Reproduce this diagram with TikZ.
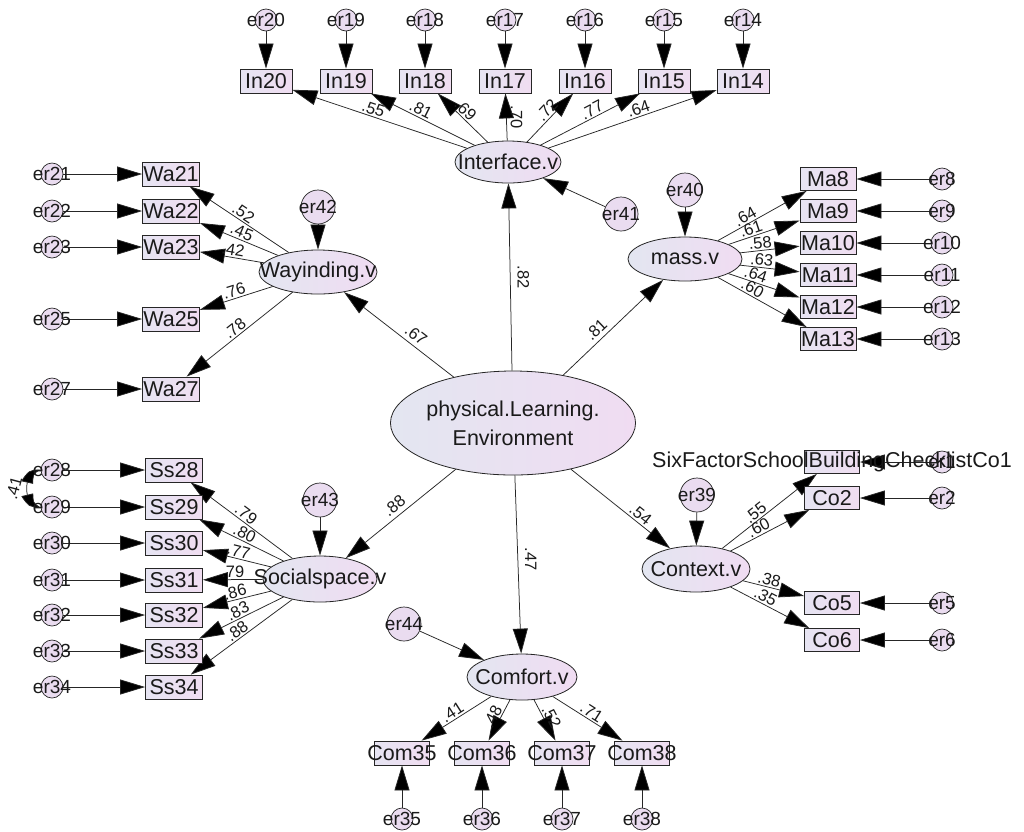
\documentclass[tikz,border=0pt]{standalone}
\usepackage{fontspec}
\setmainfont{Liberation Sans}
\usetikzlibrary{shapes.geometric,arrows.meta,bending}
\definecolor{linecol}{HTML}{262626}
\definecolor{txt}{HTML}{1A1A1A}
\definecolor{latl}{HTML}{E3E6F1}
\definecolor{latr}{HTML}{F0DCF2}
\definecolor{obsl}{HTML}{E6E4F2}
\definecolor{obsr}{HTML}{F0DDF1}
\definecolor{errf}{HTML}{EADCF0}
\pgfdeclarelayer{back}
\pgfdeclarelayer{bg}
\pgfsetlayers{back,bg,main}
\newcommand{\zw}[1]{\makebox[0pt]{#1}}
\tikzset{
  lat/.style={ellipse, draw=linecol, line width=0.8pt, left color=latl, right color=latr, inner sep=0pt, text=txt, font=\fontsize{21.5}{24}\selectfont},
  obs/.style={rectangle, draw=linecol, line width=0.8pt, left color=obsl, right color=obsr, minimum width=53pt, minimum height=24pt, inner sep=0pt, text=txt, font=\fontsize{21.5}{24}\selectfont},
  err/.style={circle, draw=linecol, line width=0.7pt, fill=errf, minimum size=22pt, inner sep=0pt, text=txt, font=\fontsize{19}{20}\selectfont},
  errb/.style={err, minimum size=34pt},
  arr/.style={draw=linecol, line width=0.75pt, -{Triangle[length=25pt,width=15pt,fill=black]}},
  coef/.style={text=txt, font=\fontsize{16.5}{17}\selectfont, inner sep=1.5pt},
}
\begin{document}
\begin{tikzpicture}[x=1pt,y=-1pt]
\useasboundingbox (0,0) rectangle (1024,831);
\begin{pgfonlayer}{back}
\fill[white] (0,0) rectangle (1024,831);
\end{pgfonlayer}

% ---- Interface
\foreach \n/\x in {20/266,19/346,18/425,17/505,16/585,15/664,14/743}{
  \node[err] (e\n) at (\x,20) {\zw{er\n}};
  \node[obs, minimum width=52pt] (i\n) at (\x,81) {\zw{In\n}};
}
\node[lat, minimum width=106pt, minimum height=42pt] (iface) at (508,162) {\zw{Interface.v}};
\node[errb] (e41) at (621,214) {\zw{er41}};

% ---- mass
\node[lat, minimum width=114pt, minimum height=44pt] (mass) at (685,259) {\zw{mass.v}};
\node[errb] (e40) at (685,190) {\zw{er40}};
\foreach \n/\y in {8/179,9/211,10/243,11/275,12/307,13/339}{
  \node[err] (e\n) at (942,\y) {\zw{er\n}};
  \node[obs, minimum width=56pt, minimum height=23pt] (m\n) at (828,\y) {\zw{Ma\n}};
}

% ---- Wayinding
\node[lat, minimum width=118pt, minimum height=44pt] (way) at (318,272) {\zw{Wayinding.v}};
\node[errb] (e42) at (318,207) {\zw{er42}};
\foreach \n/\y in {21/174,22/211,23/247,25/319,27/389}{
  \node[err] (e\n) at (52,\y) {\zw{er\n}};
  \node[obs, minimum width=57pt] (w\n) at (171,\y) {\zw{Wa\n}};
}

% ---- central
\node[lat, minimum width=214pt, minimum height=104pt, align=center, font=\fontsize{21.5}{29}\selectfont] (phys) at (513,423) {physical.Learning.\\Environment};

% ---- Socialspace
\node[lat, minimum width=114pt, minimum height=46pt] (soc) at (320,579) {\zw{Socialspace.v}};
\node[errb] (e43) at (320,500) {\zw{er43}};
\foreach \n/\y in {28/470,29/507,30/543,31/580,32/615,33/651,34/687}{
  \node[err] (e\n) at (52,\y) {\zw{er\n}};
  \node[obs, minimum width=57pt] (s\n) at (174,\y) {\zw{Ss\n}};
}

% ---- Context
\node[lat, minimum width=108pt, minimum height=46pt] (ctx) at (696,569) {\zw{Context.v}};
\node[errb] (e39) at (697,495) {\zw{er39}};
\foreach \n/\y in {1/462,2/498,5/603,6/640}{
  \node[err] (e\n) at (942,\y) {\zw{er\n}};
}
\node[obs, minimum width=55pt, minimum height=23pt] (c1) at (832,462) {\zw{SixFactorSchoolBuildingChecklistCo1}};
\foreach \n/\y in {2/498,5/603,6/640}{
  \node[obs, minimum width=55pt, minimum height=23pt] (c\n) at (832,\y) {\zw{Co\n}};
}

% ---- Comfort
\node[lat, minimum width=110pt, minimum height=46pt] (comf) at (522,677) {\zw{Comfort.v}};
\node[errb] (e44) at (404,624) {\zw{er44}};
\foreach \n/\x in {35/402,36/482,37/562,38/642}{
  \node[obs, minimum width=55pt] (k\n) at (\x,753) {\zw{Com\n}};
  \node[err] (e\n) at (\x,819) {\zw{er\n}};
}

\node[coef, rotate=75] (cov) at (14,488) {.41};

\begin{pgfonlayer}{bg}
% error arrows
\foreach \n in {14,...,20} \draw[arr] (e\n) -- (i\n);
\draw[arr] (e41) -- (iface);
\draw[arr] (e40) -- (mass);
\foreach \n in {8,...,13} \draw[arr] (e\n) -- (m\n);
\draw[arr] (e42) -- (way);
\foreach \n in {21,22,23,25,27} \draw[arr] (e\n) -- (w\n);
\draw[arr] (e43) -- (soc);
\foreach \n in {28,...,34} \draw[arr] (e\n) -- (s\n);
\draw[arr] (e39) -- (ctx);
\foreach \n in {1,2,5,6} \draw[arr] (e\n) -- (c\n);
\draw[arr] (e44) -- (comf);
\foreach \n in {35,...,38} \draw[arr] (e\n) -- (k\n);
% covariance
\draw[draw=linecol, line width=0.75pt, {Triangle[length=20pt,width=12pt,fill=black,bend]}-{Triangle[length=20pt,width=12pt,fill=black,bend]}]
  (e28.west) .. controls (22,468) and (22,509) .. (e29.west);
% loadings
\foreach \n/\lab in {20/.55,19/.81,18/.69,16/.72,15/.77,14/.64}
  \draw[arr] (iface) -- node[coef, sloped, pos=.55, above]{\lab} (i\n);
\draw[arr] (iface) -- node[coef, pos=.5, rotate=-90, anchor=south, inner sep=4pt]{.70} (i17);
\foreach \n/\lab in {21/.52,22/.45,23/.42,25/.76,27/.78}
  \draw[arr] (way) -- node[coef, sloped, pos=.5, above]{\lab} (w\n);
\foreach \n/\lab in {8/.64,9/.61,10/.58,11/.63,12/.64,13/.60}
  \draw[arr] (mass) -- node[coef, sloped, pos=.35, above]{\lab} (m\n);
\foreach \n/\lab in {28/.79,29/.80,30/.77,31/.79,32/.86,33/.83,34/.88}
  \draw[arr] (soc) -- node[coef, sloped, pos=.5, above]{\lab} (s\n);
\foreach \n/\lab in {1/.55,2/.60,5/.38,6/.35}
  \draw[arr] (ctx) -- node[coef, sloped, pos=.4, above]{\lab} (c\n);
\foreach \n/\lab in {35/.41,36/.48,37/.52,38/.71}
  \draw[arr] (comf) -- node[coef, sloped, pos=.5, above]{\lab} (k\n);
% structural
\draw[arr] (phys) -- node[coef, pos=.5, rotate=-90, anchor=south, inner sep=7pt]{.82} (iface);
\draw[arr] (phys) -- node[coef, sloped, pos=.4, above, inner sep=4pt]{.67} (way);
\draw[arr] (phys) -- node[coef, sloped, pos=.4, above, inner sep=4pt]{.81} (mass);
\draw[arr] (phys) -- node[coef, sloped, pos=.5, above, inner sep=4pt]{.88} (soc);
\draw[arr] (phys) -- node[coef, pos=.47, rotate=-90, anchor=south, inner sep=7pt]{.47} (comf);
\draw[arr] (phys) -- node[coef, sloped, pos=.65, above, inner sep=2pt]{.54} (ctx);
\end{pgfonlayer}
\end{tikzpicture}
\end{document}
